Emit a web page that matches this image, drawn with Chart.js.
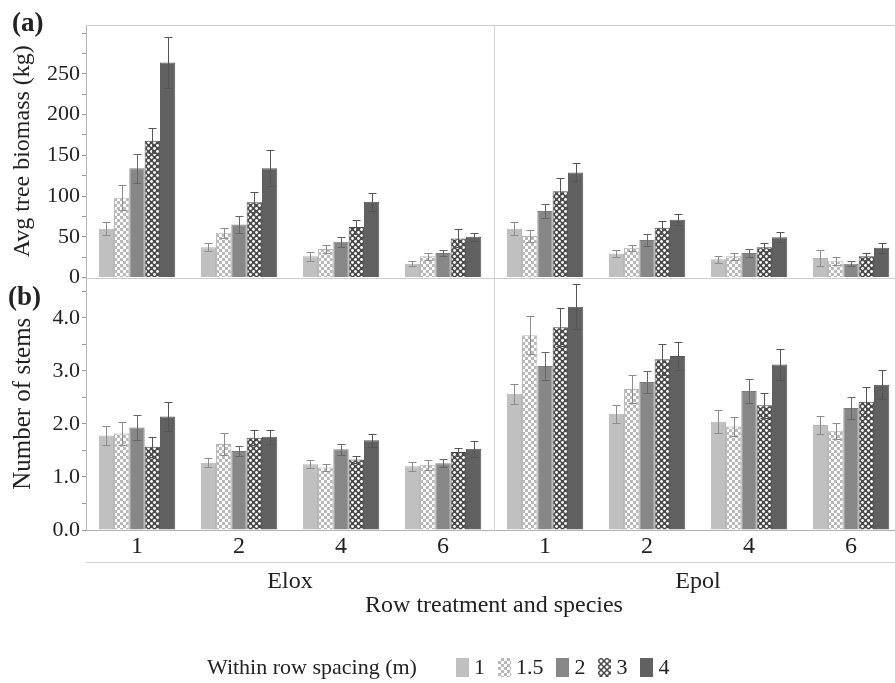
<!DOCTYPE html>
<html lang="en">
<head>
    <meta charset="UTF-8">
    <title>Biomass and stems by row treatment</title>
    <style>
        * { margin: 0; padding: 0; box-sizing: border-box; }
        body {
            width: 895px;
            height: 683px;
            overflow: hidden;
            background: #fff;
            font-family: 'Liberation Serif', 'Times New Roman', serif;
            color: #222;
        }
        .wrap { position: relative; width: 910px; height: 683px; }
        .panel-tag {
            position: absolute;
            font-weight: bold;
            font-size: 27px;
            line-height: 30px;
        }
        #legend {
            position: absolute;
            left: 207px;
            top: 655px;
            height: 24px;
            display: flex;
            align-items: center;
            font-size: 22px;
            white-space: nowrap;
        }
        .sw { display: inline-block; width: 13px; height: 19px; margin-left: 13px; margin-right: 5px; }
        .sw.first { margin-left: 39px; }
        .s1 { background: #c0c0c0; }
        .s15 { background: repeating-conic-gradient(#b8b8b8 0 25%, #fff 0 50%) 0 0 / 6px 6px; }
        .s2 { background: #878787; }
        .s3 { background: radial-gradient(circle, #fff 1.3px, transparent 1.8px) 0 0 / 6px 6px, radial-gradient(circle, #fff 1.3px, transparent 1.8px) 3px 3px / 6px 6px, #4a4a4a; }
        .s4 { background: #616161; }
    </style>
    <script src="https://cdn.jsdelivr.net/npm/chart.js@4.4.1/dist/chart.umd.min.js"></script>
</head>
<body>
<div class="wrap">
    <canvas id="c" width="910" height="683"></canvas>
    <div class="panel-tag" style="left:12px; top:7px;">(a)</div>
    <div class="panel-tag" style="left:8px; top:281px;">(b)</div>
    <div id="legend">
        <span>Within row spacing (m)</span>
        <span class="sw first s1"></span><span>1</span>
        <span class="sw s15"></span><span>1.5</span>
        <span class="sw s2"></span><span>2</span>
        <span class="sw s3"></span><span>3</span>
        <span class="sw s4"></span><span>4</span>
    </div>
</div>

<script>
    // row treatment (x ticks) and species groups
    const rowLabels = ['1', '2', '4', '6', '1', '2', '4', '6'];
    const species = ['Elox', 'Epol'];
    const spacings = ['1', '1.5', '2', '3', '4'];

    // (a) average tree biomass, kg  (Elox 1,2,4,6 then Epol 1,2,4,6)
    const bio1  = [60, 37, 26, 17, 60, 29.5, 22.5, 24];
    const bio15 = [98, 55, 35, 26, 51, 36.5, 26, 20];
    const bio2  = [134, 65, 44, 30, 81.5, 46, 30, 17];
    const bio3  = [168, 92.5, 62, 48, 106, 61, 37, 26];
    const bio4  = [264, 134, 93, 50, 129, 71, 49.5, 36.5];
    const bioErr1  = [8, 5, 5.5, 3, 8, 4, 4.5, 10];
    const bioErr15 = [15, 6, 5, 4, 7, 3.5, 4.5, 5];
    const bioErr2  = [18, 10, 6, 4, 9, 7, 5, 3];
    const bioErr3  = [15, 12, 8, 11, 16, 8, 5, 4];
    const bioErr4  = [31, 22, 11, 5, 11, 7, 6, 6];

    // (b) number of stems
    const stem1  = [1.78, 1.27, 1.24, 1.20, 2.57, 2.19, 2.04, 1.98];
    const stem15 = [1.82, 1.62, 1.18, 1.23, 3.67, 2.66, 1.95, 1.87];
    const stem2  = [1.93, 1.49, 1.52, 1.26, 3.09, 2.79, 2.62, 2.30];
    const stem3  = [1.57, 1.74, 1.33, 1.47, 3.82, 3.22, 2.35, 2.42];
    const stem4  = [2.14, 1.76, 1.69, 1.53, 4.21, 3.28, 3.12, 2.74];
    const stemErr1  = [0.18, 0.08, 0.08, 0.08, 0.19, 0.17, 0.22, 0.17];
    const stemErr15 = [0.21, 0.20, 0.06, 0.09, 0.36, 0.26, 0.18, 0.15];
    const stemErr2  = [0.23, 0.10, 0.11, 0.07, 0.27, 0.20, 0.23, 0.21];
    const stemErr3  = [0.19, 0.14, 0.07, 0.08, 0.36, 0.29, 0.24, 0.27];
    const stemErr4  = [0.27, 0.13, 0.12, 0.15, 0.43, 0.26, 0.30, 0.27];

    const ctx = document.getElementById('c').getContext('2d');

    // fill patterns for 1.5 m (checker) and 3 m (dots)
    function checkerPattern() {
        const t = document.createElement('canvas');
        t.width = t.height = 6;
        const g = t.getContext('2d');
        g.fillStyle = '#fff'; g.fillRect(0, 0, 6, 6);
        g.fillStyle = '#b8b8b8'; g.fillRect(0, 0, 3, 3); g.fillRect(3, 3, 3, 3);
        return ctx.createPattern(t, 'repeat');
    }
    function dotPattern() {
        const t = document.createElement('canvas');
        t.width = t.height = 6;
        const g = t.getContext('2d');
        g.fillStyle = '#4a4a4a'; g.fillRect(0, 0, 6, 6);
        g.fillStyle = '#fff';
        g.beginPath(); g.arc(1.5, 1.5, 1.4, 0, Math.PI * 2); g.fill();
        g.beginPath(); g.arc(4.5, 4.5, 1.4, 0, Math.PI * 2); g.fill();
        return ctx.createPattern(t, 'repeat');
    }

    const fills = ['#c0c0c0', checkerPattern(), '#878787', dotPattern(), '#616161'];
    const edges = ['#b2b2b2', '#b5b5b5', '#7c7c7c', '#474747', '#575757'];
    const errCols = ['#8c8c8c', '#8c8c8c', '#666', '#555', '#555'];

    const bioSeries = [bio1, bio15, bio2, bio3, bio4];
    const bioErrs = [bioErr1, bioErr15, bioErr2, bioErr3, bioErr4];
    const stemSeries = [stem1, stem15, stem2, stem3, stem4];
    const stemErrs = [stemErr1, stemErr15, stemErr2, stemErr3, stemErr4];

    const datasets = [];
    spacings.forEach((s, k) => {
        datasets.push({
            label: s, data: bioSeries[k], errors: bioErrs[k], errColor: errCols[k],
            xAxisID: 'x', yAxisID: 'yA', stack: 'sp' + k,
            backgroundColor: fills[k], borderColor: edges[k], borderWidth: 1
        });
        datasets.push({
            label: s, data: stemSeries[k], errors: stemErrs[k], errColor: errCols[k],
            xAxisID: 'x', yAxisID: 'yB', stack: 'sp' + k,
            backgroundColor: fills[k], borderColor: edges[k], borderWidth: 1
        });
    });

    // error bars drawn from the value scales
    const errorBars = {
        id: 'errorBars',
        afterDatasetsDraw(chart) {
            const c = chart.ctx;
            chart.data.datasets.forEach((ds, i) => {
                const meta = chart.getDatasetMeta(i);
                const scale = chart.scales[meta.yAxisID];
                c.save();
                c.strokeStyle = ds.errColor;
                c.lineWidth = 1;
                meta.data.forEach((bar, j) => {
                    const v = ds.data[j], e = ds.errors[j];
                    const hi = Math.round(scale.getPixelForValue(v + e)) + 0.5;
                    const lo = Math.round(scale.getPixelForValue(v - e)) + 0.5;
                    const x = Math.round(bar.x) + 0.5;
                    c.beginPath();
                    c.moveTo(x, hi); c.lineTo(x, lo);
                    c.moveTo(x - 4, hi); c.lineTo(x + 4, hi);
                    c.moveTo(x - 4, lo); c.lineTo(x + 4, lo);
                    c.stroke();
                });
                c.restore();
            });
        }
    };

    // top frame and line between the two panels
    const frame = {
        id: 'frame',
        beforeDatasetsDraw(chart) {
            const c = chart.ctx, a = chart.chartArea;
            const mid = Math.round(chart.scales.yA.bottom) + 0.5;
            c.save();
            c.strokeStyle = '#cdcdcd';
            c.lineWidth = 1;
            c.beginPath();
            c.moveTo(a.left, a.top + 0.5); c.lineTo(a.right, a.top + 0.5);
            c.moveTo(a.left, mid); c.lineTo(a.right, mid);
            c.stroke();
            c.restore();
        }
    };

    Chart.defaults.font.family = "'Liberation Serif', 'Times New Roman', serif";
    Chart.defaults.color = '#222';

    new Chart(ctx, {
        type: 'bar',
        data: { labels: rowLabels, datasets: datasets },
        options: {
            responsive: false,
            animation: false,
            categoryPercentage: 0.75,
            barPercentage: 1.0,
            layout: { padding: { left: 0, right: 8, top: 25, bottom: 61 } },
            plugins: { legend: { display: false }, tooltip: { enabled: false } },
            scales: {
                x: {
                    axis: 'x', position: 'bottom',
                    grid: { display: false, drawTicks: false },
                    border: { display: true, color: '#b5b5b5' },
                    ticks: { font: { size: 24 }, padding: 2, autoSkip: false, maxRotation: 0 },
                    afterFit: s => { s.height = 32; }
                },
                x2: {
                    axis: 'x', type: 'category', position: 'bottom',
                    labels: species, offset: true,
                    grid: { display: true, offset: true, drawTicks: false, color: '#d6d6d6' },
                    border: { display: true, color: '#cfcfcf' },
                    ticks: { font: { size: 24 }, padding: 5, autoSkip: false, maxRotation: 0 },
                    title: { display: true, text: 'Row treatment and species', font: { size: 24 }, padding: { top: 0, bottom: 2 } },
                    afterFit: s => { s.height = 60; }
                },
                yB: {
                    axis: 'y', type: 'linear', position: 'left',
                    stack: 'panels', stackWeight: 1,
                    min: 0, max: 4.76,
                    grid: { drawOnChartArea: false, drawTicks: true, tickLength: 4, color: '#9a9a9a' },
                    border: { display: true, color: '#b5b5b5' },
                    ticks: {
                        stepSize: 0.5, includeBounds: false, autoSkip: false, padding: 2,
                        font: { size: 22 },
                        callback: v => Math.abs(v - Math.round(v)) < 1e-6 ? v.toFixed(1) : ''
                    },
                    title: { display: true, text: 'Number of stems', font: { size: 25 }, padding: { top: 8, bottom: 0 } },
                    afterFit: s => { s.width = 86; }
                },
                yA: {
                    axis: 'y', type: 'linear', position: 'left',
                    stack: 'panels', stackWeight: 1,
                    min: 0, max: 310,
                    grid: { drawOnChartArea: false, drawTicks: true, tickLength: 4, color: '#9a9a9a' },
                    border: { display: true, color: '#b5b5b5' },
                    ticks: {
                        stepSize: 25, includeBounds: false, autoSkip: false, padding: 2,
                        font: { size: 22 },
                        callback: v => (v % 50 === 0 && v <= 250) ? v : ''
                    },
                    title: { display: true, text: 'Avg tree biomass (kg)', font: { size: 24 }, padding: { top: 8, bottom: 0 } },
                    afterFit: s => { s.width = 86; }
                }
            }
        },
        plugins: [frame, errorBars]
    });
</script>
</body>
</html>
